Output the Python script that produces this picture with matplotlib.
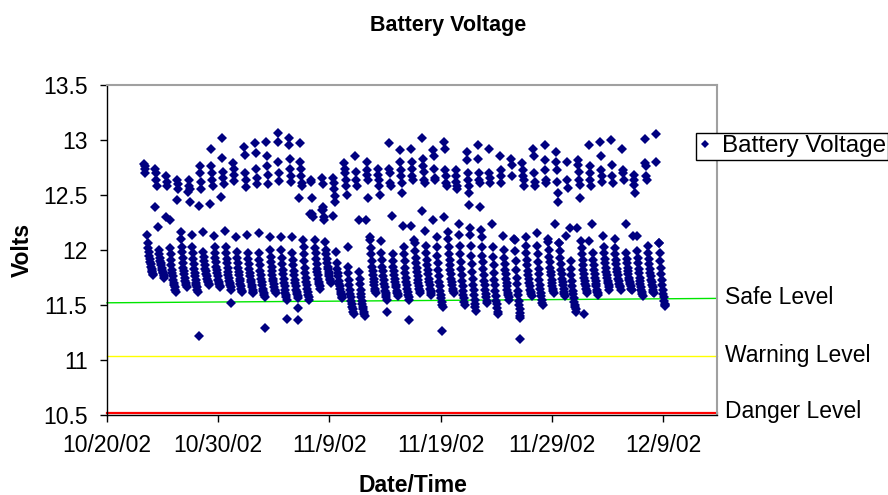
import matplotlib
matplotlib.use("Agg")
import matplotlib.pyplot as plt
import matplotlib.transforms as mtransforms
from matplotlib.lines import Line2D
import pandas as pd

plt.rcParams['font.family'] = ['Liberation Sans', 'DejaVu Sans']

# ---- data ----
first_day = "2002-10-23"   # one row per day, 10/23/02 .. 12/8/02

# daytime (charging) readings, 08:00 onwards
upper_v = [
    [12.78, 12.74, 12.70, 12.76], [12.74, 12.70, 12.64, 12.58], [12.67, 12.62, 12.58],
    [12.64, 12.60, 12.55], [12.64, 12.58, 12.55, 12.44], [12.76, 12.70, 12.62, 12.55],
    [12.92, 12.76, 12.70, 12.64, 12.58], [13.02, 12.84, 12.71, 12.65, 12.60],
    [12.79, 12.74, 12.68, 12.63], [12.94, 12.86, 12.70, 12.64, 12.57],
    [12.97, 12.88, 12.74, 12.65, 12.60], [12.98, 12.85, 12.76, 12.68, 12.60],
    [13.06, 12.98, 12.80, 12.70, 12.63], [13.02, 12.95, 12.83, 12.74, 12.67, 12.62],
    [12.97, 12.80, 12.74, 12.67, 12.61, 12.58], [12.64, 12.62, 12.47, 12.33, 12.30],
    [12.65, 12.60, 12.39, 12.36, 12.30, 12.27], [12.65, 12.61, 12.55, 12.49, 12.44],
    [12.79, 12.74, 12.70, 12.64, 12.58, 12.50], [12.85, 12.71, 12.64, 12.58],
    [12.80, 12.73, 12.68, 12.64, 12.47], [12.74, 12.68, 12.64, 12.58, 12.50],
    [12.97, 12.74, 12.70, 12.61, 12.58], [12.91, 12.80, 12.73, 12.67, 12.61, 12.52],
    [12.92, 12.80, 12.74, 12.67, 12.64], [13.02, 12.83, 12.76, 12.71, 12.64, 12.61],
    [12.91, 12.85, 12.74, 12.65, 12.64], [12.98, 12.92, 12.73, 12.67, 12.61, 12.58],
    [12.73, 12.67, 12.62, 12.58, 12.55], [12.89, 12.82, 12.70, 12.64, 12.58, 12.52, 12.41],
    [12.95, 12.83, 12.70, 12.64, 12.61, 12.39], [12.92, 12.70, 12.65, 12.61],
    [12.85, 12.73, 12.67, 12.61], [12.83, 12.77, 12.67],
    [12.79, 12.73, 12.67, 12.64, 12.58], [12.92, 12.85, 12.70, 12.62, 12.58],
    [12.95, 12.82, 12.73, 12.64, 12.61], [12.89, 12.80, 12.73, 12.62, 12.52, 12.44],
    [12.80, 12.64, 12.56], [12.82, 12.77, 12.71, 12.64, 12.59, 12.47],
    [12.95, 12.76, 12.70, 12.64, 12.58], [12.98, 12.85, 12.73, 12.67, 12.62],
    [13.00, 12.77, 12.67, 12.61], [12.92, 12.73, 12.70, 12.64],
    [12.68, 12.64, 12.59, 12.52], [13.01, 12.79, 12.76, 12.67, 12.64],
    [13.05, 12.80],
]

# 15:00 reading, just after charging stops
dusk_v = [
    12.14, 12.21, 12.27, 12.16, 12.14, 12.16, 12.13, 12.17, 12.12, 12.14,
    12.15, 12.12, 12.12, 12.12, 12.09, None, 12.07, 11.98, 12.03, 12.27,
    12.12, 12.08, 12.31, 12.22, 12.09, 12.17, 12.12, 12.16, 12.24, 12.20,
    12.18, 12.24, 12.13, 12.10, 12.12, 12.15, 12.10, 12.06, 12.20, 12.08,
    12.24, 12.13, 12.10, 12.24, 12.13, 12.04, 12.06,
]

# hourly discharge readings, 16:00 .. 04:00 next morning
night_v = [
    [12.06, 12.02, 11.98, 11.95, 11.92, 11.89, 11.87, 11.85, 11.83, 11.81, 11.80, 11.78, 11.77],
    [12.00, 11.96, 11.93, 11.90, 11.88, 11.86, 11.84, 11.82, 11.80, 11.79, 11.77, 11.76, 11.75],
    [12.02, 11.96, 11.91, 11.86, 11.82, 11.79, 11.76, 11.73, 11.70, 11.68, 11.66, 11.64, 11.62],
    [12.10, 12.03, 11.98, 11.93, 11.88, 11.84, 11.81, 11.78, 11.75, 11.72, 11.70, 11.68, 11.66],
    [12.03, 11.97, 11.92, 11.87, 11.83, 11.79, 11.76, 11.73, 11.70, 11.68, 11.66, 11.64, 11.62],
    [11.98, 11.94, 11.90, 11.86, 11.83, 11.81, 11.78, 11.76, 11.74, 11.72, 11.71, 11.69, 11.68],
    [12.03, 11.97, 11.93, 11.89, 11.85, 11.82, 11.79, 11.76, 11.73, 11.71, 11.69, 11.67, 11.66],
    [12.03, 11.97, 11.92, 11.88, 11.84, 11.80, 11.77, 11.75, 11.72, 11.70, 11.68, 11.66, 11.64],
    [11.98, 11.93, 11.88, 11.84, 11.80, 11.77, 11.74, 11.72, 11.69, 11.67, 11.65, 11.63, 11.62],
    [11.97, 11.92, 11.87, 11.83, 11.79, 11.76, 11.73, 11.71, 11.68, 11.66, 11.64, 11.62, 11.61],
    [11.97, 11.91, 11.86, 11.81, 11.77, 11.74, 11.71, 11.68, 11.65, 11.63, 11.61, 11.59, 11.57],
    [12.00, 11.94, 11.89, 11.85, 11.81, 11.77, 11.74, 11.72, 11.69, 11.66, 11.64, 11.63, 11.61],
    [12.00, 11.93, 11.87, 11.82, 11.78, 11.74, 11.70, 11.67, 11.64, 11.61, 11.59, 11.57, 11.55],
    [11.97, 11.91, 11.86, 11.81, 11.77, 11.73, 11.70, 11.67, 11.64, 11.62, 11.60, 11.58, 11.56],
    [12.03, 11.96, 11.90, 11.84, 11.79, 11.75, 11.71, 11.68, 11.65, 11.62, 11.59, 11.57, 11.55],
    [12.09, 12.02, 11.97, 11.92, 11.87, 11.83, 11.80, 11.77, 11.74, 11.71, 11.69, 11.67, 11.65],
    [12.00, 11.96, 11.92, 11.88, 11.85, 11.83, 11.80, 11.78, 11.76, 11.74, 11.73, 11.71, 11.70],
    [11.88, 11.83, 11.79, 11.76, 11.72, 11.69, 11.67, 11.65, 11.62, 11.60, 11.59, 11.57, 11.56],
    [11.85, 11.79, 11.73, 11.68, 11.64, 11.60, 11.57, 11.54, 11.51, 11.48, 11.46, 11.44, 11.42],
    [11.80, 11.74, 11.69, 11.64, 11.60, 11.57, 11.54, 11.51, 11.48, 11.46, 11.44, 11.42, 11.40],
    [12.09, 12.02, 11.96, 11.90, 11.85, 11.81, 11.77, 11.74, 11.71, 11.68, 11.65, 11.63, 11.61],
    [11.97, 11.91, 11.85, 11.81, 11.76, 11.73, 11.69, 11.66, 11.63, 11.61, 11.59, 11.57, 11.55],
    [11.96, 11.90, 11.85, 11.81, 11.77, 11.74, 11.71, 11.68, 11.66, 11.63, 11.61, 11.60, 11.58],
    [12.03, 11.96, 11.90, 11.84, 11.79, 11.75, 11.71, 11.68, 11.65, 11.62, 11.59, 11.57, 11.55],
    [12.06, 11.99, 11.93, 11.88, 11.84, 11.80, 11.76, 11.73, 11.70, 11.67, 11.65, 11.63, 11.61],
    [12.04, 11.97, 11.91, 11.86, 11.82, 11.78, 11.74, 11.71, 11.68, 11.65, 11.63, 11.61, 11.59],
    [12.03, 11.95, 11.88, 11.82, 11.76, 11.71, 11.67, 11.63, 11.59, 11.56, 11.53, 11.50, 11.48],
    [12.10, 12.03, 11.96, 11.91, 11.86, 11.82, 11.78, 11.74, 11.71, 11.68, 11.65, 11.63, 11.61],
    [12.14, 12.04, 11.96, 11.89, 11.83, 11.77, 11.72, 11.67, 11.63, 11.59, 11.56, 11.53, 11.50],
    [12.14, 12.04, 11.95, 11.87, 11.80, 11.74, 11.68, 11.64, 11.59, 11.55, 11.51, 11.48, 11.45],
    [12.12, 12.03, 11.95, 11.89, 11.83, 11.77, 11.72, 11.68, 11.64, 11.60, 11.57, 11.54, 11.52],
    [12.03, 11.94, 11.86, 11.79, 11.73, 11.68, 11.63, 11.58, 11.54, 11.51, 11.47, 11.44, 11.42],
    [12.00, 11.93, 11.87, 11.82, 11.78, 11.74, 11.70, 11.67, 11.64, 11.61, 11.59, 11.57, 11.55],
    [12.09, 11.99, 11.90, 11.82, 11.75, 11.69, 11.63, 11.59, 11.54, 11.50, 11.46, 11.43, 11.40],
    [12.04, 11.97, 11.91, 11.86, 11.81, 11.77, 11.74, 11.70, 11.67, 11.64, 11.62, 11.60, 11.58],
    [12.04, 11.96, 11.89, 11.83, 11.78, 11.73, 11.68, 11.65, 11.61, 11.58, 11.55, 11.52, 11.50],
    [12.07, 12.00, 11.94, 11.89, 11.84, 11.80, 11.77, 11.73, 11.70, 11.67, 11.65, 11.63, 11.61],
    [12.06, 11.99, 11.93, 11.87, 11.82, 11.78, 11.74, 11.71, 11.68, 11.65, 11.62, 11.60, 11.58],
    [11.90, 11.83, 11.77, 11.72, 11.67, 11.63, 11.60, 11.56, 11.53, 11.50, 11.48, 11.46, 11.44],
    [12.02, 11.96, 11.91, 11.86, 11.82, 11.78, 11.75, 11.72, 11.69, 11.67, 11.65, 11.63, 11.61],
    [11.97, 11.91, 11.86, 11.82, 11.78, 11.75, 11.72, 11.69, 11.67, 11.64, 11.62, 11.61, 11.59],
    [12.03, 11.97, 11.92, 11.88, 11.84, 11.80, 11.77, 11.75, 11.72, 11.70, 11.68, 11.66, 11.64],
    [12.02, 11.96, 11.91, 11.87, 11.83, 11.80, 11.77, 11.74, 11.72, 11.69, 11.67, 11.66, 11.64],
    [11.97, 11.92, 11.88, 11.84, 11.81, 11.78, 11.75, 11.73, 11.71, 11.69, 11.67, 11.65, 11.64],
    [11.99, 11.93, 11.88, 11.83, 11.79, 11.75, 11.72, 11.69, 11.66, 11.64, 11.62, 11.60, 11.58],
    [11.97, 11.92, 11.87, 11.83, 11.79, 11.76, 11.73, 11.71, 11.68, 11.66, 11.64, 11.62, 11.61],
    [12.06, 11.97, 11.90, 11.84, 11.78, 11.73, 11.68, 11.64, 11.60, 11.57, 11.54, 11.51, 11.49],
]

# 07:00 reading the next morning, when charging restarts
dawn_v = [
    12.39, 12.30, 12.45, 12.53, 12.40, 12.42, 12.48, None, None, None,
    None, None, None, 12.47, 12.33, 12.36, 12.31, None, None, 12.27,
    None, None, None, 12.22, 12.35, 12.27, 12.30, None, None, None,
    None, None, None, None, None, None, 12.24, 12.13, 12.20, 12.08,
    None, None, None, 12.13, None, None, None,
]

# odd single readings
extra_times = ["2002-10-28 07:00", "2002-10-31 03:00", "2002-11-03 05:00",
               "2002-11-05 04:00", "2002-11-06 05:00", "2002-11-06 04:00",
               "2002-11-14 04:00", "2002-11-16 04:00", "2002-11-19 02:00",
               "2002-11-26 02:00", "2002-11-26 03:00", "2002-12-01 22:00",
               "2002-12-09 03:00"]
extra_v = [11.22, 11.52, 11.29, 11.37, 11.36, 11.47, 11.44, 11.36, 11.26,
           11.19, 11.38, 11.42, 11.50]

# reference levels (start / end of the axis)
level_names = ["Safe Level", "Warning Level", "Danger Level"]
level_start = [11.52, 11.035, 10.52]
level_end = [11.56, 11.035, 10.52]
level_colors = ["#00e600", "#ffff00", "#ff0000"]

x_start = pd.Timestamp("2002-10-20")
x_end = pd.Timestamp("2002-12-13 20:00")
tick_dates = ["2002-10-20", "2002-10-30", "2002-11-09", "2002-11-19", "2002-11-29", "2002-12-09"]

# ---- build the time series ----
times, volts = [], []
base = pd.Timestamp(first_day)
for i in range(len(night_v)):
    day = base + pd.Timedelta(days=i)
    for k, v in enumerate(upper_v[i]):
        times.append(day + pd.Timedelta(hours=8 + k))
        volts.append(v)
    if dusk_v[i] is not None:
        times.append(day + pd.Timedelta(hours=15))
        volts.append(dusk_v[i])
    for k, v in enumerate(night_v[i]):
        times.append(day + pd.Timedelta(hours=16 + k))
        volts.append(v)
    if dawn_v[i] is not None:
        times.append(day + pd.Timedelta(hours=31))
        volts.append(dawn_v[i])
times += [pd.Timestamp(t) for t in extra_times]
volts += extra_v

navy = "#000080"

fig = plt.figure(figsize=(8.88, 4.95), dpi=100)
ax = fig.add_axes([0.1205, 0.1616, 0.6869, 0.6667])

for name, y0, y1, c in zip(level_names, level_start, level_end, level_colors):
    lw = 1.6 if name == "Danger Level" else 1.0
    ax.plot([x_start, x_end], [y0, y1], color=c, lw=lw, zorder=2, clip_on=False)

ax.plot(times, volts, ls="none", marker="D", ms=4.8, color=navy, mew=0, zorder=3)

ax.set_xlim(x_start, x_end)
ax.set_ylim(10.5, 13.5)
ax.set_yticks([10.5, 11, 11.5, 12, 12.5, 13, 13.5])
ax.set_yticklabels(["10.5", "11", "11.5", "12", "12.5", "13", "13.5"])
ticks = [pd.Timestamp(t) for t in tick_dates]
ax.set_xticks(ticks)
ax.set_xticklabels([f"{t.month}/{t.day}/{t:%y}" for t in ticks])
ax.tick_params(direction="out", length=5, width=1, labelsize=16.5, colors="black", pad=9)

for s in ["top", "right"]:
    ax.spines[s].set_color("#a0a0a0")
    ax.spines[s].set_linewidth(1.5)
for s in ["left", "bottom"]:
    ax.spines[s].set_color("black")
    ax.spines[s].set_linewidth(1)

# level labels right of the plot
trans = mtransforms.blended_transform_factory(ax.transAxes, ax.transData)
for name, y1 in zip(level_names, level_end):
    ax.text(1.013, y1 + 0.01, name, transform=trans, ha="left", va="center",
            fontsize=16.5, clip_on=False)

fig.text(448 / 888, 1 - 25 / 495, "Battery Voltage", ha="center", va="center",
         fontsize=15.5, fontweight="bold")
fig.text(22 / 888, 1 - 250 / 495, "Volts", ha="center", va="center",
         rotation=90, fontsize=16.5, fontweight="bold")
fig.text(413 / 888, 1 - 485 / 495, "Date/Time", ha="center", va="center",
         fontsize=16.5, fontweight="bold")

handle = Line2D([], [], ls="none", marker="D", ms=3.6, color=navy, mew=0)
leg = fig.legend([handle], ["Battery Voltage"], loc="upper left",
                 bbox_to_anchor=(696 / 888, 1 - 133 / 495), fontsize=17.5,
                 frameon=True, fancybox=False, edgecolor="black", framealpha=1,
                 borderpad=0.1, handlelength=0.55, handletextpad=0.4, borderaxespad=0)
leg.get_frame().set_linewidth(1)

fig.savefig("out.png", dpi=100)
